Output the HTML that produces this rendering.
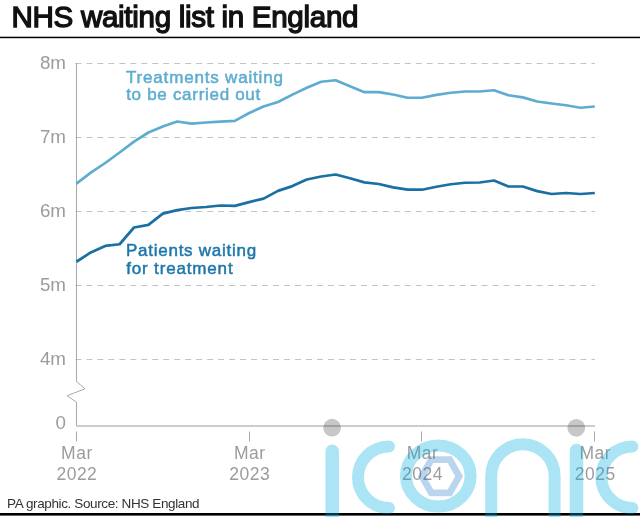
<!DOCTYPE html>
<html><head><meta charset="utf-8">
<style>
html,body{margin:0;padding:0;background:#fff;}
body{width:640px;height:517px;overflow:hidden;position:relative;}
svg{position:absolute;left:0;top:0;will-change:transform;}
text{font-family:"Liberation Sans",sans-serif;}
.title{font-size:29.6px;fill:#111;stroke:#111;stroke-width:1.35px;letter-spacing:-0.32px;}
.grid{stroke:#c3c3c3;stroke-width:1;stroke-dasharray:6 4.98;}
.yl{font-size:18.8px;fill:#9c9c9c;text-anchor:end;}
.xl{font-size:17.5px;fill:#9c9c9c;text-anchor:middle;letter-spacing:0.5px;}
.tick{stroke:#a8a8a8;stroke-width:1;}
.lab{font-size:17px;stroke-width:0.5px;}
.foot{font-size:13.5px;fill:#333;letter-spacing:-0.38px;}
</style></head><body>
<svg width="640" height="517" viewBox="0 0 640 517">
<text x="11.5" y="26.8" class="title">NHS waiting list in England</text>
<rect x="0" y="36.7" width="640" height="1.5" fill="#000"/>
<line x1="75.4" y1="63.5" x2="595" y2="63.5" class="grid"/>
<line x1="75.4" y1="137.5" x2="595" y2="137.5" class="grid"/>
<line x1="75.4" y1="211.5" x2="595" y2="211.5" class="grid"/>
<line x1="75.4" y1="285.5" x2="595" y2="285.5" class="grid"/>
<line x1="75.4" y1="359.5" x2="595" y2="359.5" class="grid"/>

<path d="M76.5,63 V381.6 L85,388.8 L67.1,395.7 L76.5,402.3 V426" fill="none" stroke="#a8a8a8" stroke-width="1"/>
<rect x="76" y="425" width="519" height="2" fill="#cccccc"/>
<text x="66" y="69.0" class="yl">8m</text>
<text x="66" y="143.1" class="yl">7m</text>
<text x="66" y="217.0" class="yl">6m</text>
<text x="66" y="290.8" class="yl">5m</text>
<text x="66" y="364.7" class="yl">4m</text>
<text x="66" y="428.9" class="yl">0</text>
<line x1="76.5" y1="431.5" x2="76.5" y2="441.5" class="tick"/>
<text x="76.9" y="458.5" class="xl">Mar</text>
<text x="76.9" y="480.2" class="xl">2022</text>
<line x1="249.5" y1="431.5" x2="249.5" y2="441.5" class="tick"/>
<text x="249.7" y="458.5" class="xl">Mar</text>
<text x="249.7" y="480.2" class="xl">2023</text>
<line x1="421.5" y1="431.5" x2="421.5" y2="441.5" class="tick"/>
<text x="422.5" y="458.5" class="xl">Mar</text>
<text x="422.5" y="480.2" class="xl">2024</text>
<line x1="594.5" y1="431.5" x2="594.5" y2="441.5" class="tick"/>
<text x="595.3" y="458.5" class="xl">Mar</text>
<text x="595.3" y="480.2" class="xl">2025</text>

<polyline points="76.4,183.60 90.8,172.70 105.2,163.00 119.6,152.50 134.0,141.70 148.4,132.50 162.8,126.50 177.2,121.50 191.6,123.60 206.0,122.50 220.4,121.60 234.8,120.90 249.2,113.00 263.6,106.50 278.0,102.00 292.4,94.60 306.8,87.75 321.2,81.75 335.6,80.25 350.0,86.30 364.4,92.20 378.8,92.10 393.2,94.50 407.6,97.75 422.0,97.75 436.4,94.90 450.8,92.75 465.2,91.50 479.6,91.50 494.0,90.25 508.4,95.25 522.8,97.40 537.2,101.50 551.6,103.50 566.0,105.25 580.4,107.75 594.8,106.50" fill="none" stroke="#5eadd0" stroke-width="2.7" stroke-linejoin="round"/>
<polyline points="76.4,261.75 90.8,252.40 105.2,245.90 119.6,244.25 134.0,227.50 148.4,224.90 162.8,213.60 177.2,210.10 191.6,208.00 206.0,207.00 220.4,205.50 234.8,205.90 249.2,202.10 263.6,198.60 278.0,190.90 292.4,186.10 306.8,179.50 321.2,176.50 335.6,174.50 350.0,178.30 364.4,182.40 378.8,184.00 393.2,187.40 407.6,189.70 422.0,189.70 436.4,186.75 450.8,184.25 465.2,182.75 479.6,182.50 494.0,180.50 508.4,186.50 522.8,186.50 537.2,191.10 551.6,194.00 566.0,193.00 580.4,194.00 594.8,193.00" fill="none" stroke="#1a70a3" stroke-width="2.7" stroke-linejoin="round"/>
<text x="126" y="82.9" class="lab" fill="#5eadd0" stroke="#5eadd0" letter-spacing="0.82">Treatments waiting</text>
<text x="126.2" y="100.4" class="lab" fill="#5eadd0" stroke="#5eadd0" letter-spacing="0.70">to be carried out</text>
<text x="126" y="256.3" class="lab" fill="#1e77aa" stroke="#1e77aa" letter-spacing="0.74">Patients waiting</text>
<text x="126.2" y="273.9" class="lab" fill="#1e77aa" stroke="#1e77aa" letter-spacing="0.84">for treatment</text>
<text x="7.1" y="507.6" class="foot">PA graphic. Source: NHS England</text>
<rect x="0" y="513" width="640" height="2.6" fill="#000"/>
<!-- watermark -->
<g fill="none" stroke="rgba(0,172,225,0.33)" stroke-width="12" stroke-linecap="round">
<path d="M332.2,451.3 V540" stroke-width="13.5"/>
<path d="M389,446.4 A31,30.8 0 0 0 389,508" />
<ellipse cx="438.3" cy="476" rx="32.3" ry="30.6"/>
<path d="M491.2,540 V476 A31.7,31.8 0 0 1 554.6,476 V540"/>
<path d="M576.5,450.5 V540" stroke-width="13.5"/>
<path d="M632.4,446.4 A31,30.8 0 0 0 632.4,508"/>
</g>
<path fill-rule="evenodd" fill="rgba(15,112,198,0.29)" d="M418.0,476.3 L429.3,456.3 L451.7,456.3 L463.0,476.3 L451.7,496.3 L429.3,496.3 Z M425.8,476.3 L433.3,489.5 L447.7,489.5 L455.2,476.3 L447.7,463.1 L433.3,463.1 Z"/>
<circle cx="332.1" cy="427.7" r="8.9" fill="rgba(0,0,0,0.22)"/>
<circle cx="576.3" cy="427.8" r="8.9" fill="rgba(0,0,0,0.22)"/>
</svg>
</body></html>
